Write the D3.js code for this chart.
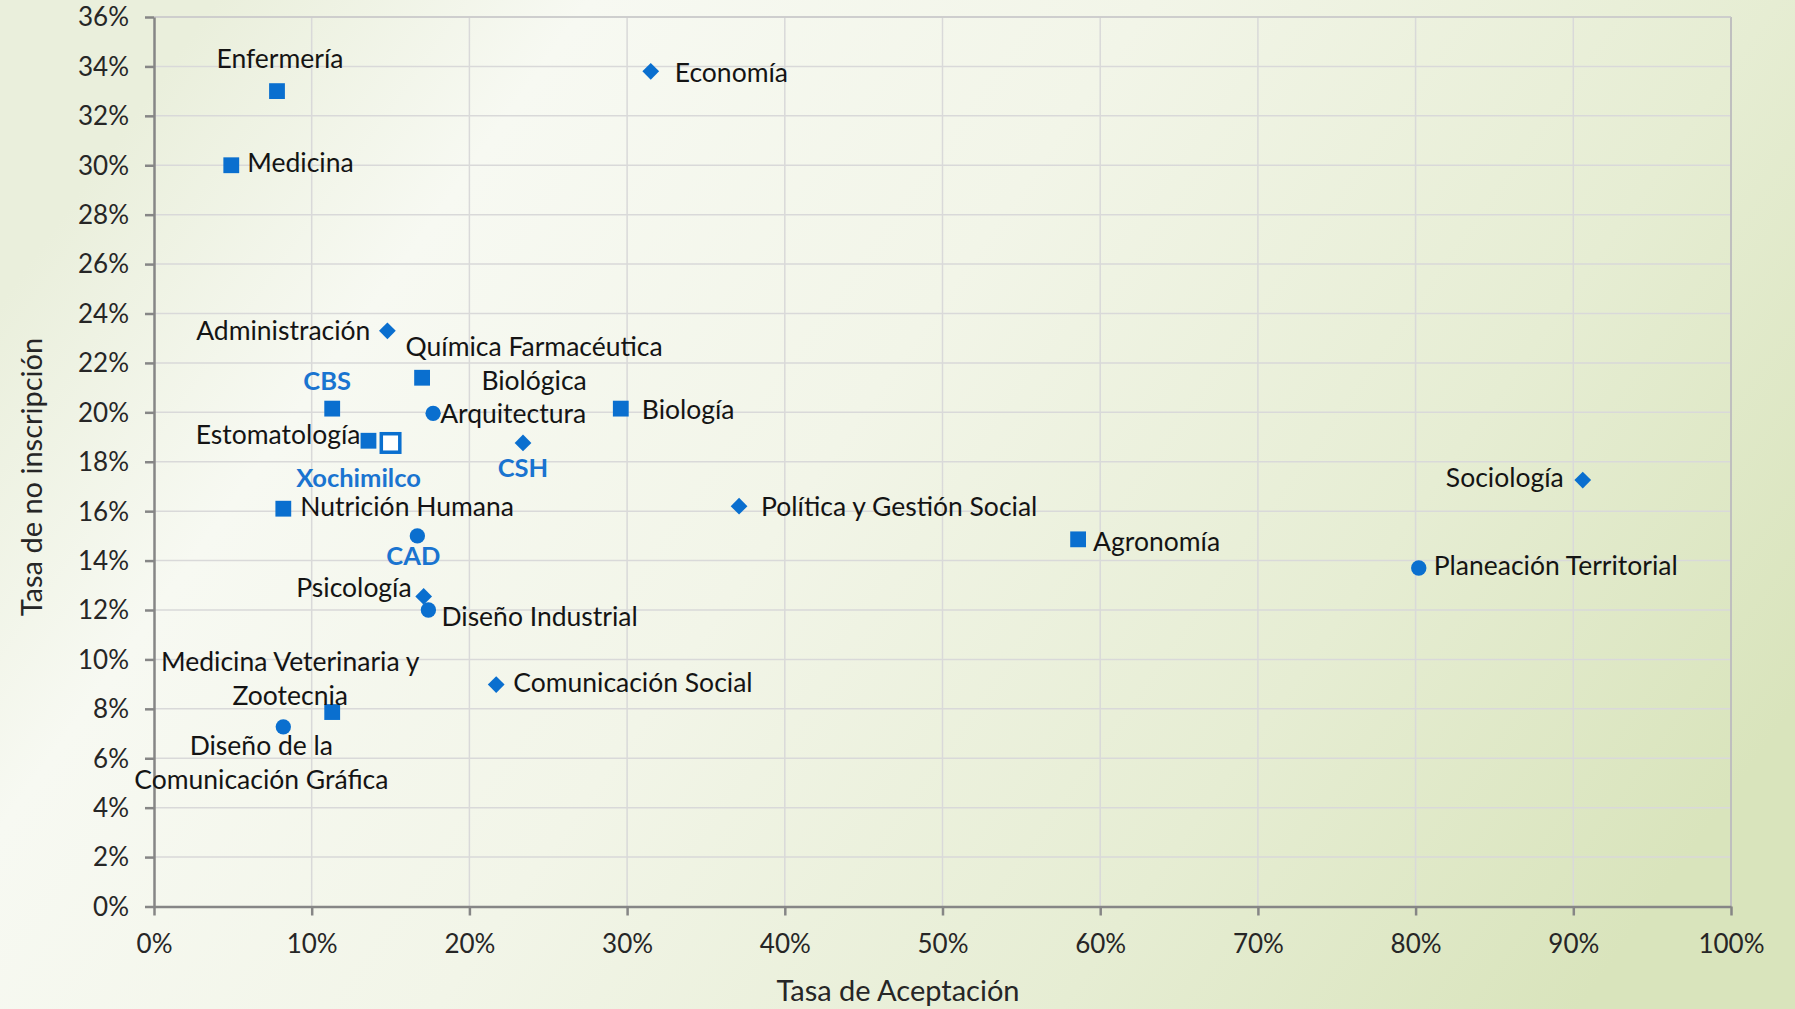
<!DOCTYPE html>
<html><head><meta charset="utf-8">
<script src="https://cdn.jsdelivr.net/npm/d3@7"></script>
<style>
html,body{margin:0;padding:0;width:1795px;height:1009px;overflow:hidden;}
svg{display:block;font-family:Lato,"Open Sans",sans-serif;}
</style></head><body>
<svg id="c" width="1795" height="1009"></svg>
<script>
// ---- data ----
const names = ["Enfermería","Economía","Medicina","Administración","Química Farmacéutica|Biológica","CBS","Arquitectura","Biología","Estomatología","Xochimilco","CSH","Nutrición Humana","Política y Gestión Social","Sociología","Agronomía","Planeación Territorial","CAD","Psicología","Diseño Industrial","Comunicación Social","Medicina Veterinaria y|Zootecnia","Diseño de la|Comunicación Gráfica"];
const acceptance = [0.078,0.315,0.049,0.148,0.170,0.113,0.177,0.296,0.136,0.150,0.234,0.082,0.371,0.906,0.586,0.802,0.167,0.171,0.174,0.217,0.113,0.082];
const nonEnrollment = [0.330,0.338,0.300,0.233,0.214,0.2015,0.1996,0.2015,0.1885,0.1876,0.1876,0.161,0.162,0.1726,0.1486,0.137,0.150,0.1255,0.120,0.0898,0.0787,0.0727];
const shapes = ["square","diamond","square","diamond","square","square","circle","square","square","hollow","diamond","square","diamond","diamond","square","circle","circle","diamond","circle","diamond","square","circle"];
const emphasized = [false,false,false,false,false,true,false,false,false,true,true,false,false,false,false,false,true,false,false,false,false,false];
const xTicks = [0,0.1,0.2,0.3,0.4,0.5,0.6,0.7,0.8,0.9,1.0];
const yTicks = [0,0.02,0.04,0.06,0.08,0.10,0.12,0.14,0.16,0.18,0.20,0.22,0.24,0.26,0.28,0.30,0.32,0.34,0.36];
const xTitle = "Tasa de Aceptación";
const yTitle = "Tasa de no inscripción";

// label placement (layout only): [dx, dy, anchor]
const labelPos = [[3,-32,"middle"],[24,1,"start"],[16,-3,"start"],[-17,0,"end"],[112,-31,"middle"],[-5,-28,"middle"],[7,0,"start"],[21,1,"start"],[-8,-6,"end"],[-32,35,"middle"],[0,25,"middle"],[17,-2,"start"],[22,0,"start"],[-19,-2,"end"],[15,2,"start"],[15,-2,"start"],[-4,20,"middle"],[-12,-9,"end"],[13,7,"start"],[17,-2,"start"],[-42,-50,"middle"],[-22,19,"middle"]];

// ---- layout ----
const W=1795,H=1009;
const L=154,R=1731,T=17,B=906.5;
const blue="#0a6fcf";
const svg=d3.select("#c");
const defs=svg.append("defs");
const g1=defs.append("linearGradient").attr("id","bg").attr("x1","0").attr("y1","0.3").attr("x2","1").attr("y2","0.7");
[[0,"#eaefdc"],[0.18,"#f7f9f2"],[0.45,"#f2f5e8"],[0.75,"#e6edd3"],[1,"#d9e4bc"]].forEach(s=>g1.append("stop").attr("offset",s[0]).attr("stop-color",s[1]));
svg.append("rect").attr("width",W).attr("height",H).attr("fill","url(#bg)");

const x=d3.scaleLinear().domain([0,1]).range([L,R]);
const y=d3.scaleLinear().domain([0,0.36]).range([B,T]);
const pct=d3.format(".0%");

// grid
svg.append("g").selectAll("line").data(xTicks.slice(1)).join("line")
  .attr("x1",d=>x(d)).attr("x2",d=>x(d)).attr("y1",T).attr("y2",B)
  .attr("stroke","#d9d9d9").attr("stroke-width",1.5);
svg.append("g").selectAll("line").data(yTicks.slice(1)).join("line")
  .attr("x1",L).attr("x2",R).attr("y1",d=>y(d)).attr("y2",d=>y(d))
  .attr("stroke","#d9d9d9").attr("stroke-width",1.5);
svg.append("line").attr("x1",R).attr("x2",R).attr("y1",T).attr("y2",B).attr("stroke","#bfbfbf").attr("stroke-width",2);
svg.append("line").attr("x1",L).attr("x2",R).attr("y1",T).attr("y2",T).attr("stroke","#c8c8c8").attr("stroke-width",1.5);

// axes
const xa=svg.append("g").attr("transform",`translate(0,${B})`)
  .call(d3.axisBottom(x).tickValues(xTicks).tickFormat(pct).tickSize(9).tickSizeOuter(0));
const ya=svg.append("g").attr("transform",`translate(${L},0)`)
  .call(d3.axisLeft(y).tickValues(yTicks).tickFormat(pct).tickSize(9).tickSizeOuter(0));
[xa,ya].forEach(a=>{
  a.select(".domain").attr("stroke","#868686").attr("stroke-width",2.5);
  a.selectAll(".tick line").attr("stroke","#868686").attr("stroke-width",2.5);
  a.selectAll(".tick text").attr("fill","#262626").style("font-size","26px").style("font-family","Lato, sans-serif");
});
xa.selectAll(".tick text").attr("dy",0).attr("y",46);
ya.selectAll(".tick text").attr("x",-25).attr("dy","0.34em");

svg.append("text").attr("x",898).attr("y",1001).attr("text-anchor","middle")
  .attr("fill","#262626").style("font-size","29px").text(xTitle);
svg.append("text").attr("transform","translate(42,477) rotate(-90)").attr("text-anchor","middle")
  .attr("fill","#262626").style("font-size","29px").text(yTitle);

// points
const idx=d3.range(names.length);
const sym={square:d3.symbol(d3.symbolSquare,250),circle:d3.symbol(d3.symbolCircle,185),diamond:d3.symbol(d3.symbolSquare,140)};
const pts=svg.append("g");
idx.forEach(i=>{
  const px=x(acceptance[i]),py=y(nonEnrollment[i]);
  const s=shapes[i];
  if(s==="hollow"){
    pts.append("rect").attr("x",px-9.25).attr("y",py-9.25).attr("width",18.5).attr("height",18.5)
      .attr("fill","#ffffff").attr("stroke",blue).attr("stroke-width",3.5);
  } else {
    pts.append("path").attr("d",sym[s]()).attr("fill",blue)
      .attr("transform",`translate(${px},${py})`+(s==="diamond"?" rotate(45)":""));
  }
});

// labels
const lab=svg.append("g");
idx.forEach(i=>{
  const px=x(acceptance[i]),py=y(nonEnrollment[i]);
  const [dx,dy,anc]=labelPos[i];
  const lines=names[i].split("|");
  const t=lab.append("text").attr("text-anchor",anc)
    .attr("fill",emphasized[i]?"#1a74d0":"#141414")
    .style("font-size",emphasized[i]?"25.5px":"26.5px")
    .style("font-weight",emphasized[i]?"bold":"normal");
  lines.forEach((ln,k)=>{
    t.append("tspan").attr("x",px+dx).attr("y",py+dy+k*34).attr("dy","0.35em").text(ln);
  });
});
</script></body></html>
